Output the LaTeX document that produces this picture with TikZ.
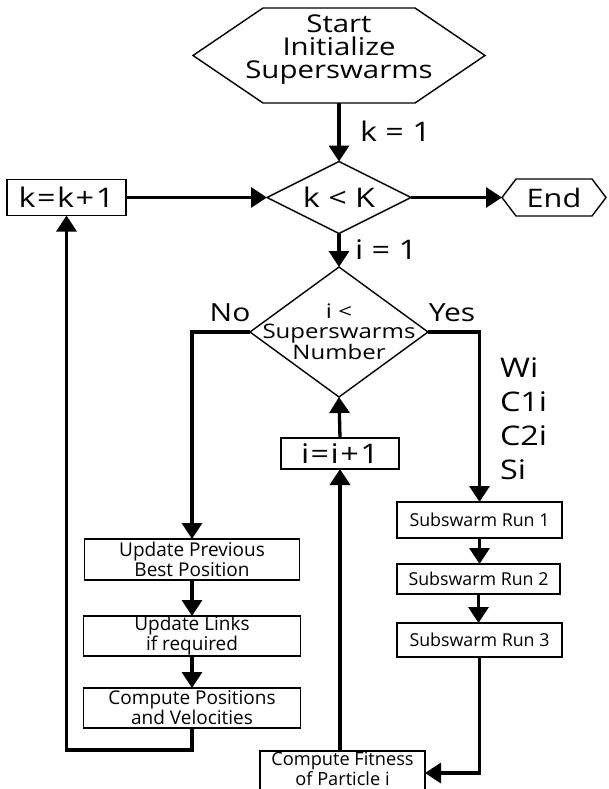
\documentclass[tikz,border=0pt]{standalone}
\usepackage{fontspec}
\setmainfont[FakeStretch=1.2]{Open Sans}
\newfontfamily\plainsans{Open Sans}
\usetikzlibrary{arrows.meta}
\tikzset{
  conn/.style={line width=3.3pt, -{Triangle[width=20pt,length=16pt]}},
  outline/.style={line width=1.4pt},
  geo/.style={draw=none, inner sep=0pt, outer sep=0pt, align=center},
  boxnode/.style={draw, line width=1.4pt, inner sep=0pt, outer sep=0pt, align=center},
  lab/.style={font=\fontsize{27}{30}\selectfont},
  hexfont/.style={font=\fontsize{24.5}{23}\selectfont},
  dfont/.style={font=\fontsize{20}{19.5}\selectfont},
  bfont/.style={font=\plainsans\fontsize{19}{16.5}\selectfont},
  sfont/.style={font=\plainsans\fontsize{17.8}{18}\selectfont},
}
\begin{document}
\begin{tikzpicture}[x=1pt,y=-1pt]
\useasboundingbox (0,0) rectangle (608,789);
% start hexagon
\node[geo, minimum width=292pt, minimum height=95pt] (start) at (339,55.5) {};
\draw[outline] (start.west) -- ([xshift=70pt]start.north west) -- ([xshift=-70pt]start.north east)
  -- (start.east) -- ([xshift=-70pt]start.south east) -- ([xshift=70pt]start.south west) -- cycle;
\node[geo, hexfont] (starttext) at (339,49.5) {Start\\Initialize\\Superswarms};
% k < K diamond
\node[geo, lab, minimum width=144pt, minimum height=72pt] (kk) at (339,197.5) {k < K};
\draw[outline] (kk.north) -- (kk.east) -- (kk.south) -- (kk.west) -- cycle;
% k = k + 1
\node[boxnode, lab, minimum width=119pt, minimum height=36pt] (kinc) at (66.5,197.5)
  {k\kern1.5pt=\kern1.5pt k\kern1.5pt+\kern1.5pt 1};
% End hexagon
\node[geo, font=\fontsize{25.5}{28}\selectfont, minimum width=104pt, minimum height=37pt] (end) at (554,197.5) {End};
\draw[outline] (end.west) -- ([xshift=14pt]end.north west) -- ([xshift=-14pt]end.north east)
  -- (end.east) -- ([xshift=-14pt]end.south east) -- ([xshift=14pt]end.south west) -- cycle;
% labels
\node[geo, lab, anchor=west] (k1) at (360,131) {k = 1};
\node[geo, lab, anchor=west] (i1) at (355,250) {i = 1};
% second diamond
\node[geo, dfont, minimum width=178pt, minimum height=130pt] (d2) at (339,332) {i <\\Superswarms\\Number};
\draw[outline] (d2.north) -- (d2.east) -- (d2.south) -- (d2.west) -- cycle;
\node[geo, font=\fontsize{25}{28}\selectfont] (no) at (230,313) {No};
\node[geo, font=\fontsize{25}{28}\selectfont] (yes) at (452,313) {Yes};
% parameters
\node[geo, lab, anchor=west] (wi) at (500,368) {Wi};
\node[geo, lab, anchor=west] (c1i) at (500,402) {C1i};
\node[geo, lab, anchor=west] (c2i) at (500,436) {C2i};
\node[geo, lab, anchor=west] (si) at (500,470) {Si};
% i = i + 1
\node[boxnode, lab, minimum width=118pt, minimum height=31pt] (iinc) at (340,453.5)
  {i\kern1.5pt=\kern1.5pt i\kern1.5pt+\kern1.5pt 1};
% left column
\node[boxnode, bfont, minimum width=215pt, minimum height=41pt] (upd) at (192,559.5) {Update Previous\\Best Position};
\node[boxnode, bfont, minimum width=217pt, minimum height=40pt] (links) at (192,636) {Update Links\\if required};
\node[boxnode, bfont, minimum width=217pt, minimum height=40pt] (comp) at (192,708) {Compute Positions\\and Velocities};
% right column
\node[boxnode, sfont, minimum width=165pt, minimum height=36pt] (sub1) at (479.5,520) {Subswarm Run 1};
\node[boxnode, sfont, minimum width=163pt, minimum height=30pt] (sub2) at (478.5,579) {Subswarm Run 2};
\node[boxnode, sfont, minimum width=165pt, minimum height=34pt] (sub3) at (479.5,640) {Subswarm Run 3};
% compute fitness
\node[boxnode, minimum width=165pt, minimum height=44pt] (cf) at (342.5,773) {};
\node[geo, font=\plainsans\fontsize{18.2}{16.5}\selectfont] (cftext) at (342.5,769) {Compute Fitness\\of Particle i};
% connectors
\draw[conn] (start.south) -- (kk.north);
\draw[conn] (kinc.east) -- (kk.west);
\draw[conn] (kk.east) -- (end.west);
\draw[conn] (kk.south) -- (d2.north);
\draw[conn] (d2.west) -| (upd.north);
\draw[conn] (d2.east) -| (sub1.north);
\draw[conn] (upd.south) -- (links.north);
\draw[conn] (links.south) -- (comp.north);
\draw[conn] (comp.south) -- ++(0,22) -| (kinc.south);
\draw[conn] (sub1.south) -- (sub1.south |- sub2.north);
\draw[conn] (sub2.south) -- (sub2.south |- sub3.north);
\draw[conn] (sub3.south) |- (cf.east);
\draw[conn] (iinc.south |- cf.north) -- (iinc.south);
\draw[conn] (iinc.north) -- (d2.south);
\end{tikzpicture}
\end{document}
